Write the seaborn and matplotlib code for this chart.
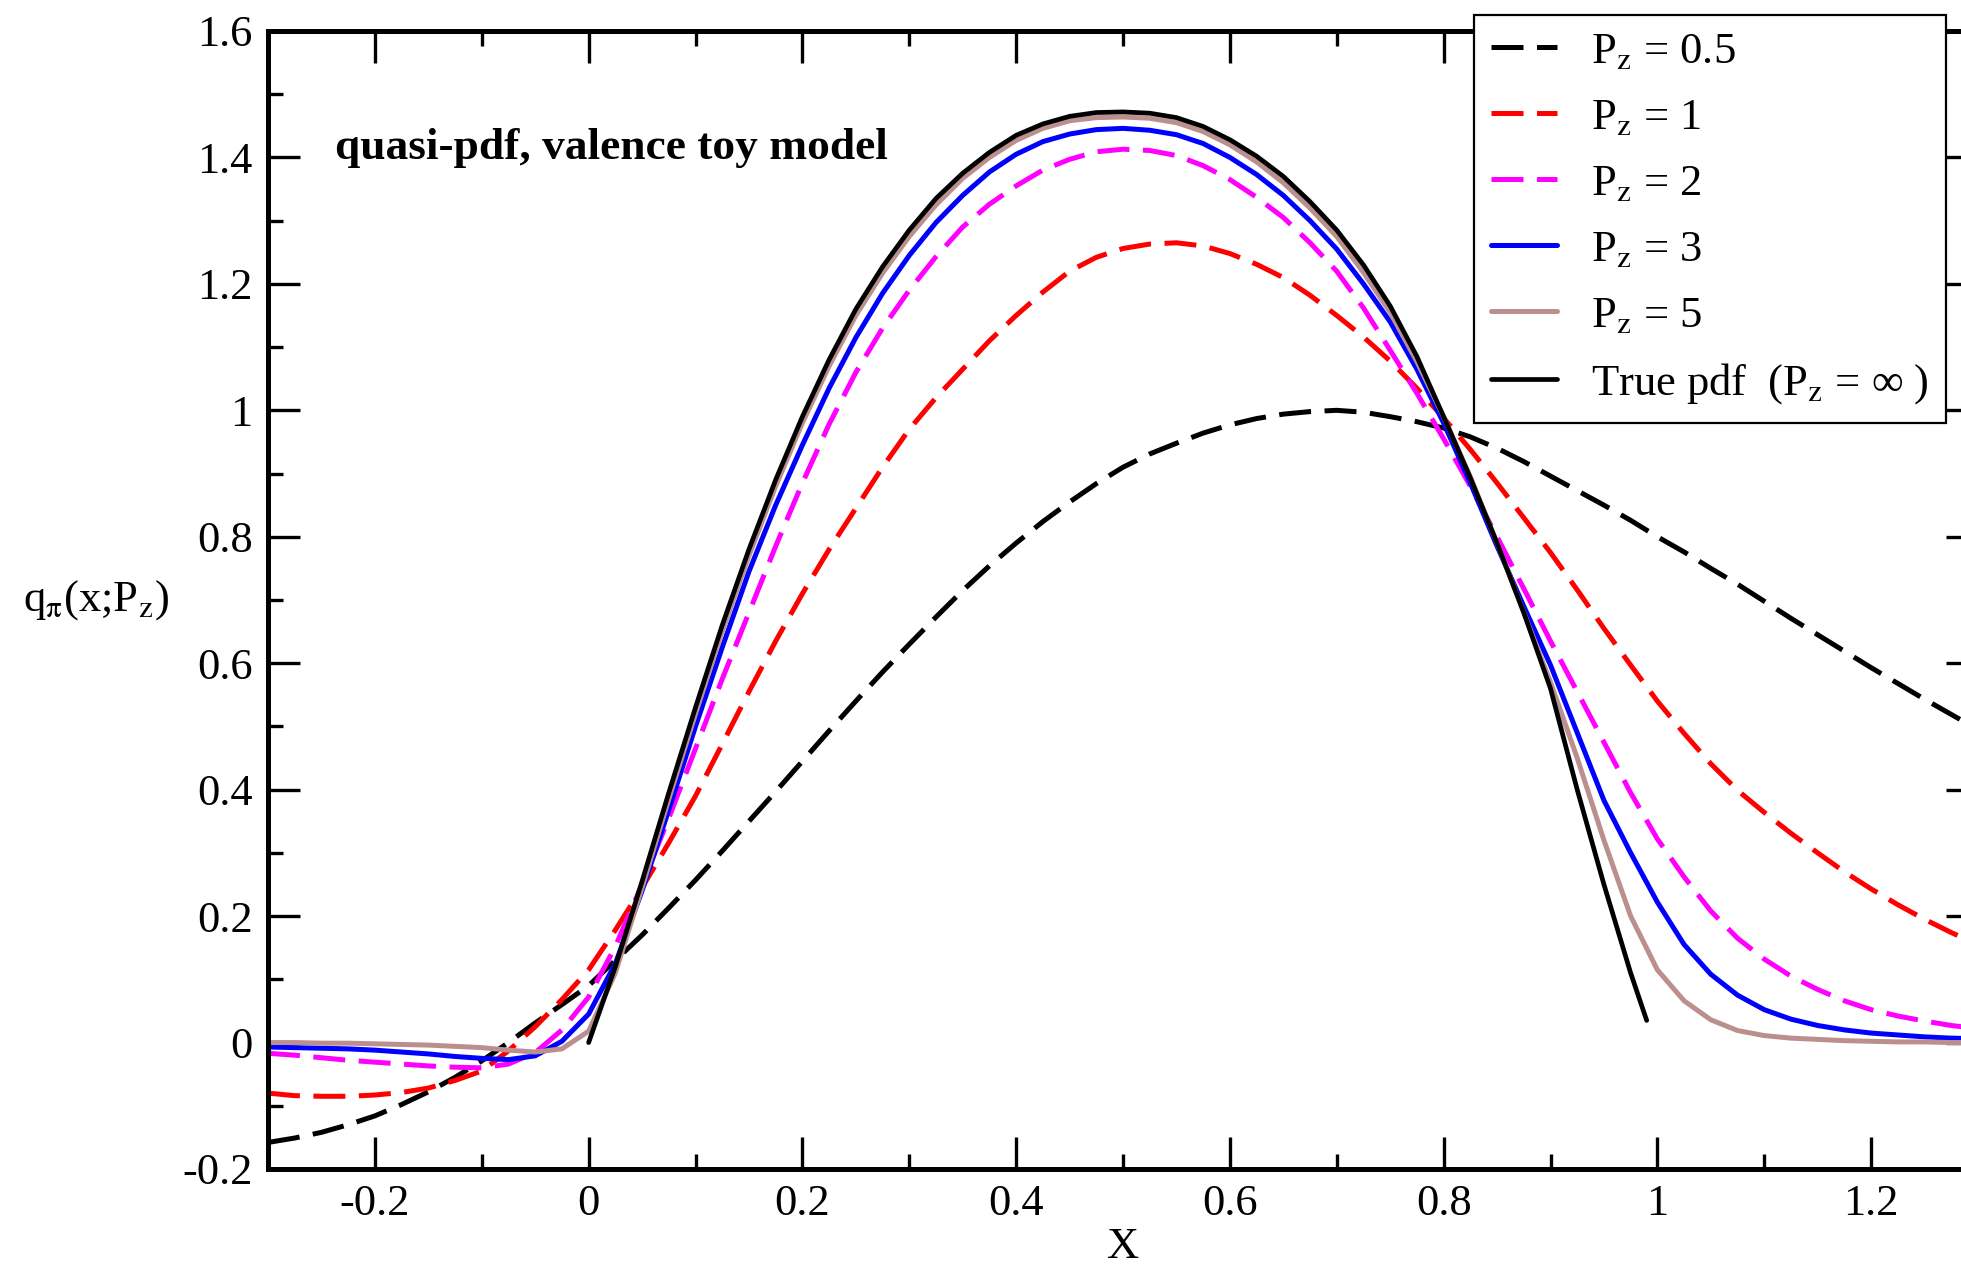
import numpy as np
import pandas as pd
import matplotlib
matplotlib.use("Agg")
import matplotlib.pyplot as plt
import seaborn as sns
from matplotlib.ticker import MultipleLocator, FuncFormatter

# ---------------- data ----------------
x_grid = [-0.300, -0.275, -0.250, -0.225, -0.200, -0.175, -0.150, -0.125, -0.100, -0.075,
          -0.050, -0.025, 0.000, 0.025, 0.050, 0.075, 0.100, 0.125, 0.150, 0.175,
          0.200, 0.225, 0.250, 0.275, 0.300, 0.325, 0.350, 0.375, 0.400, 0.425,
          0.450, 0.475, 0.500, 0.525, 0.550, 0.575, 0.600, 0.625, 0.650, 0.675,
          0.700, 0.725, 0.750, 0.775, 0.800, 0.825, 0.850, 0.875, 0.900, 0.925,
          0.950, 0.975, 1.000, 1.025, 1.050, 1.075, 1.100, 1.125, 1.150, 1.175,
          1.200, 1.225, 1.250, 1.275, 1.300]

pz_05 = [-0.158, -0.151, -0.142, -0.130, -0.116, -0.098, -0.078, -0.055, -0.029, 0.000,
         0.031, 0.060, 0.090, 0.130, 0.170, 0.213, 0.257, 0.303, 0.350, 0.397,
         0.445, 0.493, 0.540, 0.586, 0.630, 0.673, 0.715, 0.754, 0.790, 0.824,
         0.855, 0.884, 0.910, 0.931, 0.948, 0.964, 0.977, 0.987, 0.994, 0.998,
         1.000, 0.997, 0.990, 0.982, 0.972, 0.958, 0.940, 0.919, 0.896, 0.873,
         0.850, 0.826, 0.800, 0.776, 0.750, 0.725, 0.698, 0.671, 0.645, 0.619,
         0.593, 0.568, 0.543, 0.519, 0.495]

pz_1 = [-0.080, -0.084, -0.085, -0.085, -0.083, -0.079, -0.072, -0.060, -0.045, -0.013,
        0.025, 0.068, 0.115, 0.178, 0.245, 0.316, 0.390, 0.472, 0.555, 0.635,
        0.710, 0.780, 0.845, 0.910, 0.970, 1.020, 1.065, 1.110, 1.150, 1.187,
        1.220, 1.242, 1.256, 1.263, 1.265, 1.260, 1.248, 1.231, 1.210, 1.182,
        1.150, 1.116, 1.078, 1.035, 0.988, 0.938, 0.885, 0.830, 0.775, 0.716,
        0.655, 0.597, 0.540, 0.489, 0.441, 0.399, 0.364, 0.331, 0.300, 0.270,
        0.243, 0.218, 0.195, 0.174, 0.155]

pz_2 = [-0.017, -0.020, -0.024, -0.028, -0.031, -0.034, -0.037, -0.039, -0.040, -0.034,
        -0.016, 0.020, 0.072, 0.152, 0.250, 0.355, 0.465, 0.575, 0.680, 0.785,
        0.885, 0.978, 1.060, 1.130, 1.190, 1.243, 1.290, 1.326, 1.355, 1.380,
        1.397, 1.409, 1.413, 1.411, 1.403, 1.387, 1.365, 1.337, 1.305, 1.265,
        1.220, 1.162, 1.095, 1.027, 0.955, 0.880, 0.800, 0.718, 0.635, 0.555,
        0.475, 0.395, 0.322, 0.262, 0.208, 0.165, 0.132, 0.105, 0.084, 0.066,
        0.052, 0.042, 0.034, 0.027, 0.022]

pz_3 = [-0.007, -0.008, -0.009, -0.010, -0.012, -0.015, -0.018, -0.022, -0.025, -0.027,
        -0.021, 0.002, 0.045, 0.125, 0.240, 0.368, 0.500, 0.625, 0.745, 0.850,
        0.945, 1.035, 1.115, 1.185, 1.245, 1.297, 1.340, 1.377, 1.405, 1.425,
        1.437, 1.444, 1.446, 1.443, 1.436, 1.422, 1.400, 1.373, 1.340, 1.300,
        1.255, 1.200, 1.140, 1.065, 0.980, 0.885, 0.785, 0.690, 0.597, 0.490,
        0.383, 0.300, 0.222, 0.155, 0.108, 0.075, 0.052, 0.037, 0.027, 0.020,
        0.015, 0.012, 0.009, 0.007, 0.006]

pz_5 = [0.000, 0.000, -0.001, -0.001, -0.002, -0.003, -0.004, -0.006, -0.008, -0.012,
        -0.015, -0.010, 0.018, 0.110, 0.245, 0.385, 0.520, 0.650, 0.770, 0.880,
        0.980, 1.070, 1.150, 1.217, 1.275, 1.325, 1.367, 1.400, 1.427, 1.446,
        1.458, 1.463, 1.464, 1.462, 1.455, 1.441, 1.420, 1.393, 1.360, 1.320,
        1.275, 1.218, 1.155, 1.077, 0.990, 0.895, 0.790, 0.680, 0.570, 0.450,
        0.320, 0.200, 0.115, 0.066, 0.036, 0.019, 0.011, 0.007, 0.005, 0.003,
        0.002, 0.001, 0.001, 0.000, 0.000]

x_true = [0.000, 0.025, 0.050, 0.075, 0.100, 0.125, 0.150, 0.175, 0.200, 0.225,
          0.250, 0.275, 0.300, 0.325, 0.350, 0.375, 0.400, 0.425, 0.450, 0.475,
          0.500, 0.525, 0.550, 0.575, 0.600, 0.625, 0.650, 0.675, 0.700, 0.725,
          0.750, 0.775, 0.800, 0.825, 0.850, 0.875, 0.900, 0.925, 0.950, 0.975,
          0.990]
true_pdf = [0.000, 0.120, 0.255, 0.395, 0.530, 0.660, 0.780, 0.890, 0.990, 1.080,
            1.160, 1.227, 1.285, 1.335, 1.375, 1.408, 1.435, 1.453, 1.465, 1.471,
            1.472, 1.470, 1.463, 1.449, 1.428, 1.402, 1.370, 1.330, 1.285, 1.230,
            1.165, 1.085, 0.990, 0.893, 0.790, 0.680, 0.560, 0.400, 0.250, 0.110,
            0.035]

labels = [r"P$_{\mathrm{z}}$ = 0.5", r"P$_{\mathrm{z}}$ = 1", r"P$_{\mathrm{z}}$ = 2",
          r"P$_{\mathrm{z}}$ = 3", r"P$_{\mathrm{z}}$ = 5",
          r"True pdf  (P$_{\mathrm{z}}$ = ∞ )"]
colors = ["black", "#ff0000", "#ff00ff", "#0000ff", "#bc8f8f", "black"]

# ---------------- style ----------------
sns.set_theme(style="ticks")
plt.rcParams['font.family'] = ['Liberation Serif', 'DejaVu Serif']
plt.rcParams['mathtext.fontset'] = 'stix'
plt.rcParams['axes.unicode_minus'] = False

W, H = 1961, 1268
fig = plt.figure(figsize=(W / 100, H / 100), dpi=100)
fig.patch.set_facecolor("white")
ax_left, ax_right, ax_top, ax_bottom = 268, 1978, 31, 1169
ax = fig.add_axes([ax_left / W, 1 - ax_bottom / H,
                   (ax_right - ax_left) / W, (ax_bottom - ax_top) / H])
ax.set_facecolor("white")

dash = (0, (6.4, 2.7))
series = [
    (x_grid, pz_05, dash),
    (x_grid, pz_1, dash),
    (x_grid, pz_2, dash),
    (x_grid, pz_3, "-"),
    (x_grid, pz_5, "-"),
    (x_true, true_pdf, "-"),
]
lws = [3.6, 3.6, 3.6, 3.6, 3.6, 3.4]
for (xs, ys, ls), lab, col, lw in zip(series, labels, colors, lws):
    df = pd.DataFrame({"x": xs, "y": ys})
    sns.lineplot(data=df, x="x", y="y", ax=ax, color=col, linewidth=lw,
                 linestyle=ls, label=lab, errorbar=None, sort=False)

ax.set_xlim(-0.3, 1.3)
ax.set_ylim(-0.2, 1.6)
ax.xaxis.set_major_locator(MultipleLocator(0.2))
ax.xaxis.set_minor_locator(MultipleLocator(0.1))
ax.yaxis.set_major_locator(MultipleLocator(0.2))
ax.yaxis.set_minor_locator(MultipleLocator(0.1))
fmt = FuncFormatter(lambda v, p: f"{round(v, 2) + 0.0:g}")
ax.xaxis.set_major_formatter(fmt)
ax.yaxis.set_major_formatter(fmt)
ax.tick_params(which='both', direction='in', top=True, right=True,
               width=2.4, labelsize=32, colors='black', pad=11)
ax.tick_params(which='major', length=23)
ax.tick_params(which='minor', length=11)
for sp in ax.spines.values():
    sp.set_linewidth(3.6)
    sp.set_color("black")
ax.grid(False)

ax.set_xlabel("X", fontsize=32, labelpad=2, color="black")
ax.set_ylabel(r"q$_{\mathrm{\pi}}$(x;P$_{\mathrm{z}}$)", fontsize=32,
              rotation=0, ha="center", va="center", color="black")
ax.yaxis.set_label_coords(-0.1006, 0.5)

ax.text(0.039, 0.897, "quasi-pdf, valence toy model", transform=ax.transAxes,
        fontsize=32.7, fontweight="bold", ha="left", va="center", color="black")

leg = ax.legend(loc="upper right", bbox_to_anchor=(1946 / W, 1 - 15 / H),
                bbox_transform=fig.transFigure, borderaxespad=0, frameon=True,
                fancybox=False, framealpha=1, edgecolor="black", fontsize=32,
                handlelength=1.48, handletextpad=0.77, labelspacing=0.58,
                borderpad=0.38)
leg.get_frame().set_linewidth(1.6)
for t in leg.get_texts():
    t.set_color("black")

fig.savefig("out.png", dpi=100)
